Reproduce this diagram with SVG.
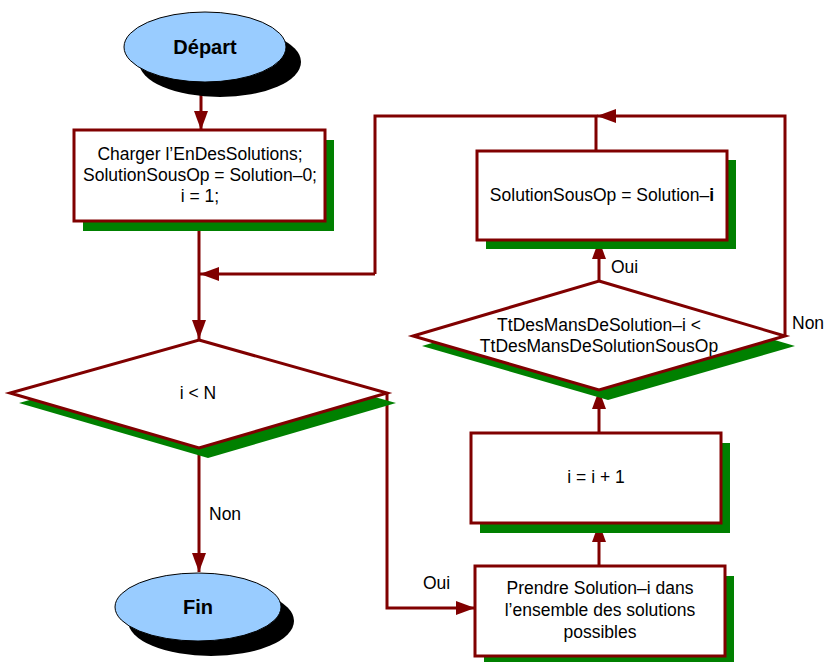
<svg xmlns="http://www.w3.org/2000/svg" width="826" height="662" viewBox="0 0 826 662">
<defs>
<style>
.box{fill:#fff;stroke:#800000;stroke-width:3}
.sh{fill:#008000}
.term{fill:#99ccff;stroke:#000;stroke-width:1}
.tsh{fill:#000}
.t{font-family:"Liberation Sans",Arial,sans-serif;font-size:17.5px;fill:#000;text-anchor:middle}
.tb{font-family:"Liberation Sans",Arial,sans-serif;font-size:20px;font-weight:bold;fill:#000;text-anchor:middle}
.lbl{font-family:"Liberation Sans",Arial,sans-serif;font-size:17.5px;fill:#000}
.c{fill:none;stroke:#800000;stroke-width:3}
</style>
<marker id="ah" viewBox="0 0 19 14" refX="19" refY="7" markerWidth="19" markerHeight="14" markerUnits="userSpaceOnUse" orient="auto">
<path d="M0,0 L19,7 L0,14 Z" fill="#800000"/>
</marker>
</defs>
<rect width="826" height="662" fill="#fff"/>

<g id="connectors">
<path class="c" d="M201,82 V130" marker-end="url(#ah)"/>
<path class="c" d="M199,221 V339" marker-end="url(#ah)"/>
<path class="c" d="M375,274 H200" marker-end="url(#ah)"/>
<path class="c" d="M596,150 V116 H375 V274"/>
<path class="c" d="M785,336 V116 H597" marker-end="url(#ah)"/>
<path class="c" d="M199,448 V572" marker-end="url(#ah)"/>
<path class="c" d="M387,393 V608 H475" marker-end="url(#ah)"/>
<path class="c" d="M599,566 V523" marker-end="url(#ah)"/>
<path class="c" d="M599,433 V390" marker-end="url(#ah)"/>
<path class="c" d="M599,281 V240" marker-end="url(#ah)"/>
<text class="lbl" x="209" y="520">Non</text>
<text class="lbl" x="423" y="589">Oui</text>
<text class="lbl" x="611" y="273">Oui</text>
<text class="lbl" x="792" y="329">Non</text>
</g>

<g id="depart">
<ellipse class="tsh" cx="220" cy="62" rx="81" ry="35"/>
<ellipse class="term" cx="205" cy="47" rx="81" ry="35"/>
<text class="tb" x="205" y="54">Départ</text>
</g>

<g id="charger">
<rect class="sh" x="83" y="140" width="251" height="91"/>
<rect class="box" x="74" y="130" width="251" height="91"/>
<text class="t" x="200" y="160">Charger l’EnDesSolutions;</text>
<text class="t" x="200" y="181">SolutionSousOp = Solution–0;</text>
<text class="t" x="200" y="202">i = 1;</text>
</g>

<g id="test_n">
<polygon class="sh" points="208,350 396,403 208,458 19,403"/>
<polygon class="box" points="199,340 387,393 199,448 10,393"/>
<text class="t" x="198" y="399">i &lt; N</text>
</g>

<g id="fin">
<ellipse class="tsh" cx="211" cy="621" rx="83" ry="35"/>
<ellipse class="term" cx="198" cy="607" rx="83" ry="34"/>
<text class="tb" x="198" y="614">Fin</text>
</g>

<g id="prendre">
<rect class="sh" x="484" y="576" width="250" height="90"/>
<rect class="box" x="475" y="566" width="250" height="90"/>
<text class="t" x="600" y="594">Prendre Solution–i dans</text>
<text class="t" x="600" y="616">l’ensemble des solutions</text>
<text class="t" x="600" y="638">possibles</text>
</g>

<g id="increment">
<rect class="sh" x="480" y="443" width="250" height="90"/>
<rect class="box" x="471" y="433" width="250" height="90"/>
<text class="t" x="596" y="483">i = i + 1</text>
</g>

<g id="compare">
<polygon class="sh" points="608,291 795,346 608,400 422,346"/>
<polygon class="box" points="599,281 785,336 599,390 413,336"/>
<text class="t" x="599" y="331">TtDesMansDeSolution–i &lt;</text>
<text class="t" x="599" y="352">TtDesMansDeSolutionSousOp</text>
</g>

<g id="update">
<rect class="sh" x="486" y="160" width="250" height="89"/>
<rect class="box" x="477" y="151" width="250" height="89"/>
<text class="t" x="602" y="201">SolutionSousOp = Solution–<tspan font-weight="bold">i</tspan></text>
</g>
</svg>
